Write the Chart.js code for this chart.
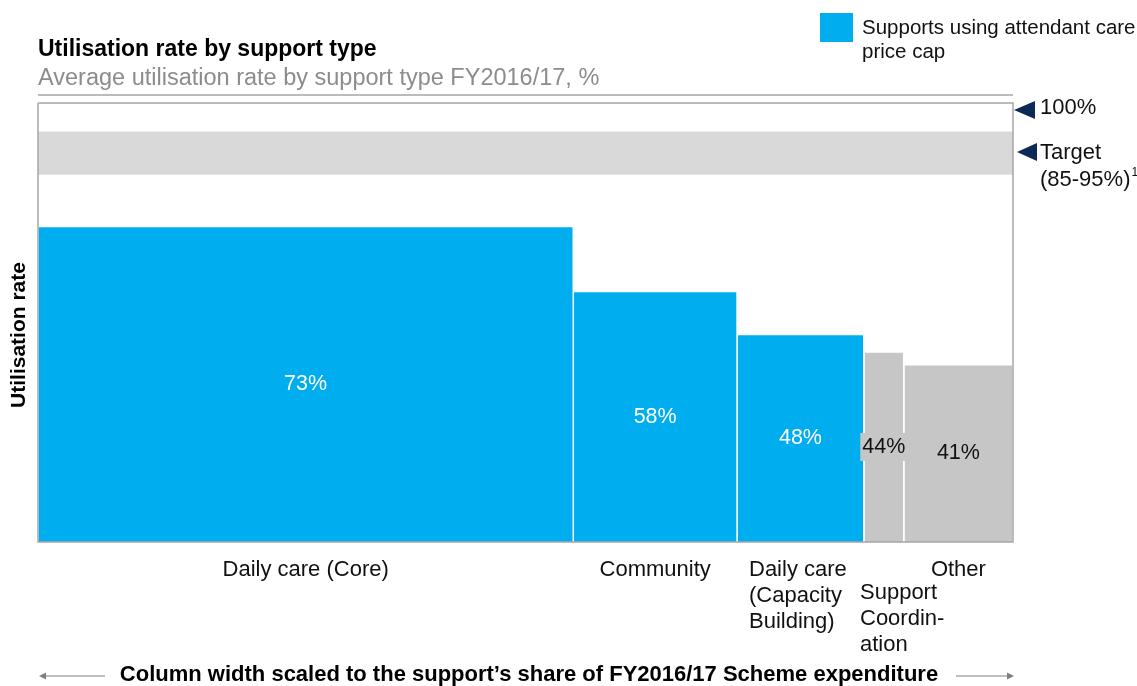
<!DOCTYPE html>
<html>
<head>
<meta charset="utf-8">
<script src="https://cdn.jsdelivr.net/npm/chart.js@4"></script>
<style>
  body { margin: 0; background: #fff; }
  #wrap { width: 1137px; height: 686px; position: relative; }
</style>
</head>
<body>
<div id="wrap"><canvas id="mekko"></canvas></div>
<script>
// data
const categories = ["Daily care (Core)", "Community", "Daily care (Capacity Building)", "Support Coordination", "Other"];
const categoryLines = [["Daily care (Core)"], ["Community"], ["Daily care", "(Capacity", "Building)"], ["Support", "Coordin-", "ation"], ["Other"]];
const utilisation = [73, 58, 48, 44, 41];          // % utilisation
const spendShare = [54.9, 16.8, 13.0, 4.1, 11.2];  // % of scheme expenditure (column width)
const usesPriceCap = [true, true, true, false, false];
const targetRange = [85, 95];
const yMax = 101.6;

const BLUE = "#00aeef";
const GREY = "#c6c6c6";
const NAVY = "#0b2a55";
const FONT = 'Arial, "Liberation Sans", sans-serif';

// build one filled rectangle per column from the cumulative share
let start = 0;
const columnSets = categories.map(function (name, i) {
  const s = start;
  const e = start + spendShare[i];
  start = e;
  const col = usesPriceCap[i] ? BLUE : GREY;
  return {
    label: name,
    data: [{ x: s, y: 0 }, { x: s, y: utilisation[i] }, { x: e, y: utilisation[i] }, { x: e, y: 0 }],
    showLine: true,
    fill: "origin",
    backgroundColor: col,
    borderColor: "#ffffff",
    borderWidth: 1.5,
    pointRadius: 0,
    tension: 0
  };
});

const targetSet = {
  label: "Target",
  data: [{ x: 0, y: targetRange[1] }, { x: start, y: targetRange[1] }],
  showLine: true,
  fill: { value: targetRange[0] },
  backgroundColor: "#d9d9d9",
  borderWidth: 0,
  pointRadius: 0
};

function tri(ctx, x, y, w, h) {
  ctx.beginPath();
  ctx.moveTo(x, y);
  ctx.lineTo(x + w, y - h / 2);
  ctx.lineTo(x + w, y + h / 2);
  ctx.closePath();
  ctx.fill();
}

const decor = {
  id: "decor",
  afterDatasetsDraw(chart) {
    const ctx = chart.ctx;
    const a = chart.chartArea;
    const xs = chart.scales.x, ys = chart.scales.y;
    ctx.save();

    // frame
    ctx.strokeStyle = "#a6a6a6";
    ctx.lineWidth = 1.5;
    ctx.beginPath();
    ctx.moveTo(a.left, a.top);
    ctx.lineTo(a.right, a.top);
    ctx.lineTo(a.right, a.bottom);
    ctx.lineTo(a.left, a.bottom);
    ctx.lineTo(a.left, a.top);
    ctx.stroke();
    // title underline
    ctx.beginPath();
    ctx.moveTo(a.left, 95);
    ctx.lineTo(a.right, 95);
    ctx.stroke();

    // value labels, centred at half height
    let s = 0;
    ctx.textBaseline = "middle";
    utilisation.forEach(function (v, i) {
      const e = s + spendShare[i];
      const cx = xs.getPixelForValue((s + e) / 2);
      const cy = ys.getPixelForValue(v / 2);
      const txt = v + "%";
      ctx.font = "21.5px " + FONT;
      ctx.textAlign = "center";
      if (i === 3) {
        const w = ctx.measureText(txt).width + 4;
        ctx.fillStyle = GREY;
        ctx.fillRect(cx - w / 2, cy - 14, w, 28);
      }
      ctx.fillStyle = usesPriceCap[i] ? "#ffffff" : "#111111";
      ctx.fillText(txt, cx, cy);

      // category labels under the axis
      ctx.font = "22px " + FONT;
      ctx.fillStyle = "#111111";
      const lines = categoryLines[i];
      if (lines.length === 1) {
        ctx.textAlign = "center";
        ctx.fillText(lines[0], cx, 570);
      } else if (i === 2) {
        ctx.textAlign = "left";
        lines.forEach(function (t, k) { ctx.fillText(t, 749, 570 + k * 26); });
      } else {
        ctx.textAlign = "left";
        lines.forEach(function (t, k) { ctx.fillText(t, 860, 593 + k * 26); });
      }
      s = e;
    });

    // title block
    ctx.textAlign = "left";
    ctx.fillStyle = "#000";
    ctx.font = "bold 23px " + FONT;
    ctx.fillText("Utilisation rate by support type", 38, 50);
    ctx.fillStyle = "#8c8c8c";
    ctx.font = "23.5px " + FONT;
    ctx.fillText("Average utilisation rate by support type FY2016/17, %", 38, 79);

    // legend
    ctx.fillStyle = BLUE;
    ctx.fillRect(820, 13, 33, 29);
    ctx.fillStyle = "#111";
    ctx.font = "20.5px " + FONT;
    ctx.fillText("Supports using attendant care", 862, 28);
    ctx.fillText("price cap", 862, 52);

    // right annotations
    ctx.fillStyle = NAVY;
    tri(ctx, a.right + 1, ys.getPixelForValue(100), 21, 18);
    tri(ctx, 1017, 152, 20, 18);
    ctx.fillStyle = "#111";
    ctx.font = "22px " + FONT;
    ctx.fillText("100%", 1040, 108);
    ctx.fillText("Target", 1040, 153);
    ctx.fillText("(85-95%)", 1040, 180);
    const w1 = ctx.measureText("(85-95%)").width;
    ctx.font = "12px " + FONT;
    ctx.fillText("1", 1040 + w1 + 1, 173);

    // y axis title
    ctx.save();
    ctx.translate(19, 335);
    ctx.rotate(-Math.PI / 2);
    ctx.textAlign = "center";
    ctx.font = "bold 21px " + FONT;
    ctx.fillStyle = "#000";
    ctx.fillText("Utilisation rate", 0, 0);
    ctx.restore();

    // bottom note with arrows
    ctx.textAlign = "center";
    ctx.font = "bold 22px " + FONT;
    ctx.fillStyle = "#000";
    ctx.fillText("Column width scaled to the support\u2019s share of FY2016/17 Scheme expenditure", 529, 675);
    ctx.strokeStyle = "#808080";
    ctx.fillStyle = "#808080";
    ctx.lineWidth = 1.2;
    ctx.beginPath();
    ctx.moveTo(44, 676); ctx.lineTo(105, 676);
    ctx.moveTo(956, 676); ctx.lineTo(1008, 676);
    ctx.stroke();
    tri(ctx, 39, 676, 7, 7);
    ctx.beginPath();
    ctx.moveTo(1014, 676);
    ctx.lineTo(1007, 672.5);
    ctx.lineTo(1007, 679.5);
    ctx.closePath();
    ctx.fill();

    ctx.restore();
  }
};

new Chart(document.getElementById("mekko"), {
  type: "scatter",
  data: { datasets: [targetSet].concat(columnSets) },
  options: {
    responsive: true,
    maintainAspectRatio: false,
    animation: false,
    layout: { padding: { left: 38, right: 124, top: 103, bottom: 144 } },
    scales: {
      x: { type: "linear", min: 0, max: 100, display: false },
      y: { min: 0, max: yMax, display: false }
    },
    plugins: { legend: { display: false }, tooltip: { enabled: false } }
  },
  plugins: [decor]
});
</script>
</body>
</html>
